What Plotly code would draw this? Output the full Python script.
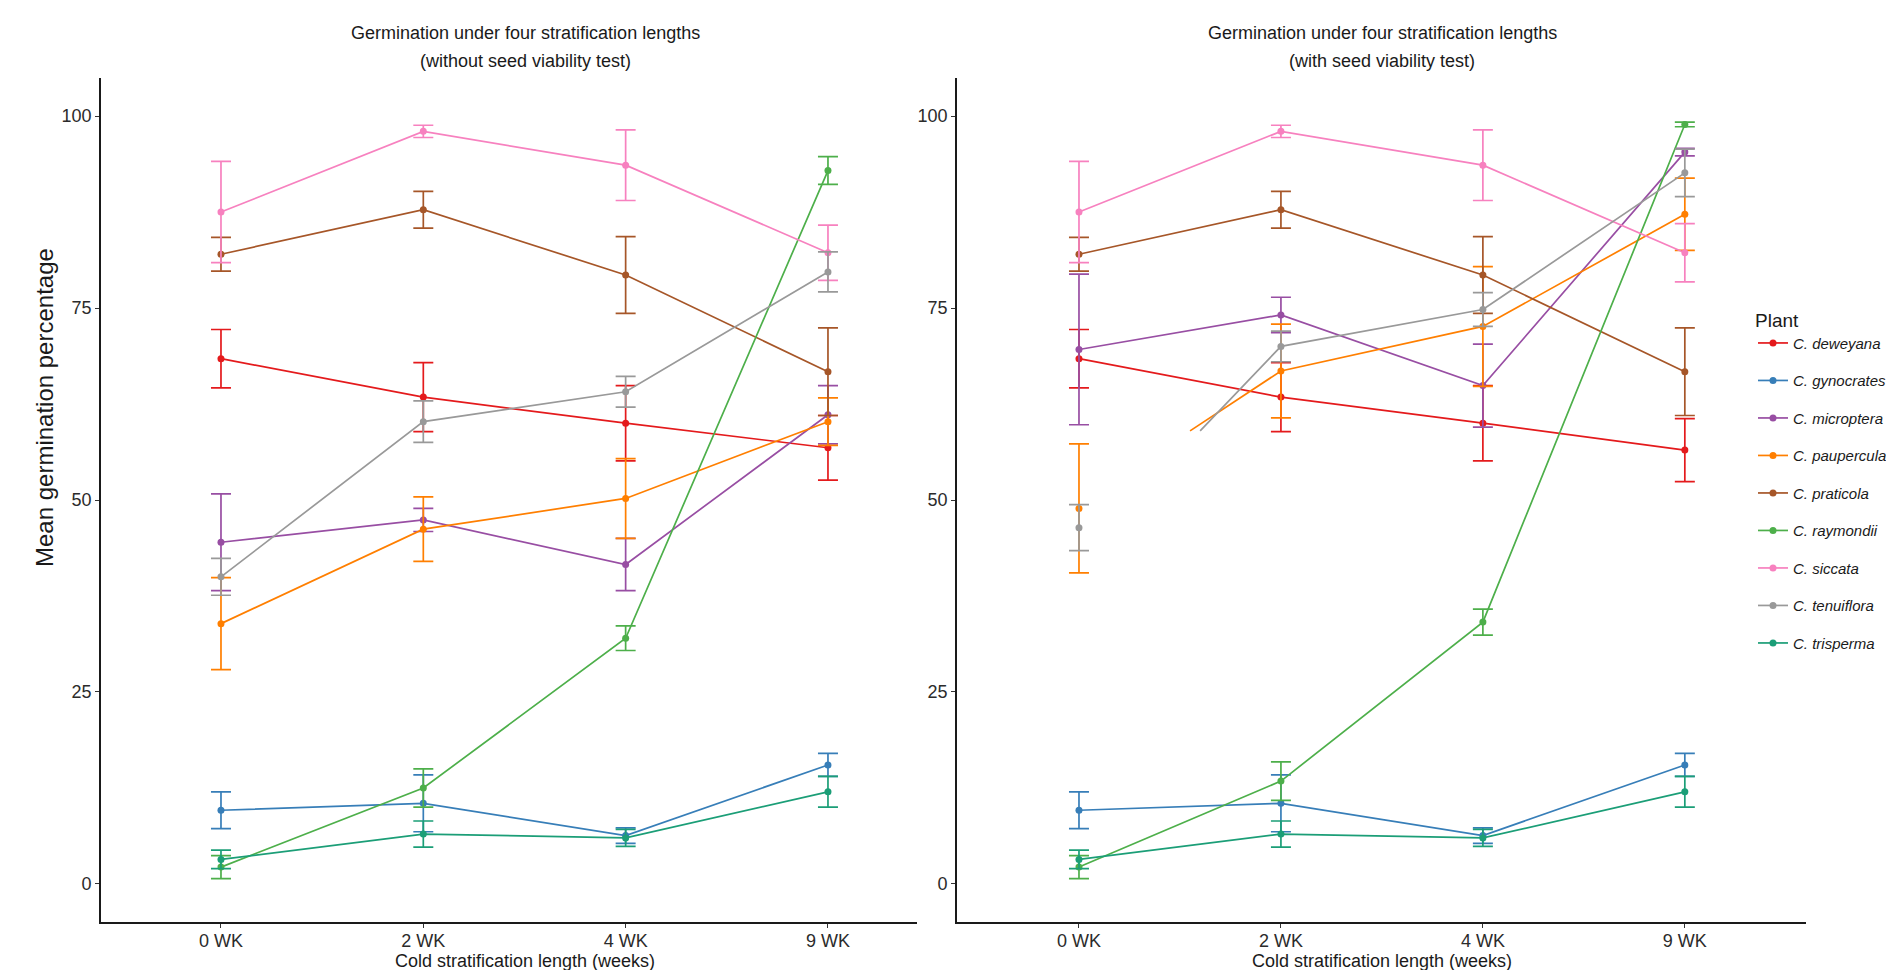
import plotly.graph_objects as go

# ---------------- data ----------------
weeks = ["0 WK", "2 WK", "4 WK", "9 WK"]
week_pos = [0, 1, 2, 3]

species = ["C. deweyana", "C. gynocrates", "C. microptera", "C. paupercula",
           "C. praticola", "C. raymondii", "C. siccata", "C. tenuiflora", "C. trisperma"]
colors = ["#E41A1C", "#377EB8", "#984EA3", "#FF7F00",
          "#A65628", "#4DAF4A", "#F781BF", "#999999", "#1B9E77"]

# mean germination % (rows follow `species`, columns follow `weeks`)
without_mean = [
    [68.4, 63.4, 60.0, 56.8],
    [9.6, 10.5, 6.3, 15.5],
    [44.5, 47.4, 41.6, 61.1],
    [33.9, 46.2, 50.2, 60.2],
    [82.0, 87.8, 79.3, 66.7],
    [2.2, 12.5, 32.0, 92.9],
    [87.5, 98.0, 93.6, 82.2],
    [40.0, 60.2, 64.1, 79.7],
    [3.2, 6.5, 6.0, 12.0],
]
without_se = [
    [3.8, 4.5, 4.9, 4.2],
    [2.4, 3.7, 1.0, 1.5],
    [6.3, 1.5, 3.4, 3.8],
    [6.0, 4.2, 5.2, 3.1],
    [2.2, 2.4, 5.0, 5.7],
    [1.5, 2.5, 1.6, 1.8],
    [6.6, 0.8, 4.6, 3.6],
    [2.4, 2.7, 2.0, 2.6],
    [1.2, 1.7, 1.1, 2.0],
]
with_mean = [
    [68.4, 63.4, 60.0, 56.5],
    [9.6, 10.5, 6.3, 15.5],
    [69.6, 74.1, 64.9, 95.3],
    [48.9, 66.8, 72.6, 87.2],
    [82.0, 87.8, 79.3, 66.7],
    [2.2, 13.4, 34.1, 98.9],
    [87.5, 98.0, 93.6, 82.2],
    [46.4, 70.0, 74.8, 92.6],
    [3.2, 6.5, 6.0, 12.0],
]
with_se = [
    [3.8, 4.5, 4.9, 4.1],
    [2.4, 3.7, 1.0, 1.5],
    [9.8, 2.3, 5.4, 0.5],
    [8.4, 6.1, 7.8, 4.7],
    [2.2, 2.4, 5.0, 5.7],
    [1.5, 2.5, 1.7, 0.3],
    [6.6, 0.8, 4.6, 3.8],
    [3.0, 2.0, 2.2, 3.1],
    [1.2, 1.7, 1.1, 2.0],
]
# in the right panel two fitted lines start between 0 WK and 2 WK (None = starts at 0 WK mean)
with_line_start_x = [None, None, None, 0.55, None, None, None, 0.6, None]
with_line_start_y = [None, None, None, 59.0, None, None, None, 59.0, None]

title_main = "Germination under four stratification lengths"
title_left = "(without seed viability test)"
title_right = "(with seed viability test)"
x_title = "Cold stratification length (weeks)"
y_title = "Mean germination percentage"

# ---------------- figure ----------------
W, H = 1894, 970
FONT = "Liberation Sans, Arial, sans-serif"
TXT = "#1a1a1a"

fig = go.Figure()

for i, name in enumerate(species):
    c = colors[i]
    fig.add_trace(go.Scatter(
        x=week_pos, y=without_mean[i], mode="lines+markers",
        name="<i>" + name + "</i>", legendgroup=name, showlegend=True,
        line=dict(color=c, width=1.7), marker=dict(color=c, size=7),
        error_y=dict(type="data", array=without_se[i], color=c, thickness=1.7, width=10),
        xaxis="x", yaxis="y", hoverinfo="skip"))

for i, name in enumerate(species):
    c = colors[i]
    lx = list(week_pos)
    ly = list(with_mean[i])
    if with_line_start_x[i] is not None:
        lx[0] = with_line_start_x[i]
        ly[0] = with_line_start_y[i]
    fig.add_trace(go.Scatter(
        x=lx, y=ly, mode="lines", legendgroup=name, showlegend=False,
        line=dict(color=c, width=1.7), xaxis="x2", yaxis="y2", hoverinfo="skip"))
    fig.add_trace(go.Scatter(
        x=week_pos, y=with_mean[i], mode="markers", legendgroup=name, showlegend=False,
        marker=dict(color=c, size=7),
        error_y=dict(type="data", array=with_se[i], color=c, thickness=1.7, width=10),
        xaxis="x2", yaxis="y2", hoverinfo="skip"))

axis_common = dict(showline=True, linecolor="#1a1a1a", linewidth=1.8, ticks="outside",
                   ticklen=4, tickwidth=1.2, tickcolor="#333333", showgrid=False,
                   zeroline=False, tickfont=dict(family=FONT, size=18, color="#2b2b2b"))

fig.update_layout(
    width=W, height=H,
    margin=dict(l=0, r=0, t=0, b=0, autoexpand=False),
    paper_bgcolor="white", plot_bgcolor="white",
    font=dict(family=FONT, color=TXT),
    xaxis=dict(domain=[93 / W, 909 / W], range=[-0.593, 3.44], tickvals=week_pos,
               ticktext=weeks, anchor="y", ticklabelstandoff=-3, **axis_common),
    yaxis=dict(domain=[1 - 914 / H, 1 - 70 / H], range=[-4.95, 104.95],
               tickvals=[0, 25, 50, 75, 100], anchor="x", **axis_common),
    xaxis2=dict(domain=[949 / W, 1798 / W], range=[-0.604, 3.6], tickvals=week_pos,
                ticktext=weeks, anchor="y2", ticklabelstandoff=-3, **axis_common),
    yaxis2=dict(domain=[1 - 914 / H, 1 - 70 / H], range=[-4.95, 104.95],
                tickvals=[0, 25, 50, 75, 100], anchor="x2", **axis_common),
    legend=dict(x=1745 / W, y=1 - 294 / H, xanchor="left", yanchor="top",
                bgcolor="rgba(0,0,0,0)", itemwidth=30, tracegroupgap=15,
                font=dict(family=FONT, size=15, color=TXT),
                title=dict(text="Plant", font=dict(family=FONT, size=19, color=TXT))),
    showlegend=True,
)

annos = [
    dict(text=title_main, x=517, y=25, size=18, angle=0),
    dict(text=title_left, x=517, y=53, size=18, angle=0),
    dict(text=title_main, x=1374, y=25, size=18, angle=0),
    dict(text=title_right, x=1374, y=53, size=18, angle=0),
    dict(text=x_title, x=517, y=953, size=18, angle=0),
    dict(text=x_title, x=1374, y=953, size=18, angle=0),
    dict(text=y_title, x=36, y=400, size=24, angle=-90),
]
for a in annos:
    fig.add_annotation(text=a["text"], x=a["x"] / W, y=1 - a["y"] / H, xref="paper", yref="paper",
                       xanchor="center", yanchor="middle", showarrow=False, textangle=a["angle"],
                       font=dict(family=FONT, size=a["size"], color=TXT))

fig.write_html("out.html")
